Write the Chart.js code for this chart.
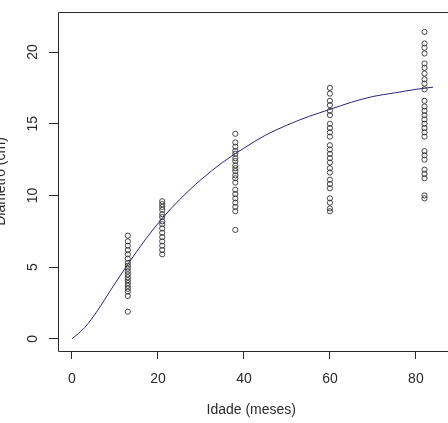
<!DOCTYPE html>
<html>
<head>
<meta charset="utf-8">
<script src="https://cdn.jsdelivr.net/npm/chart.js@4/dist/chart.umd.min.js"></script>
<style>
  html, body { margin: 0; padding: 0; background: #fff; overflow: hidden; }
  canvas { display: block; }
</style>
</head>
<body>
<canvas id="c" width="448" height="423"></canvas>
<script>
// ---- data ----
const ages = [13, 21, 38, 60, 82];
const d13 = [7.2, 6.8, 6.5, 6.2, 5.9, 5.6, 5.3, 5.1, 4.9, 4.7, 4.5, 4.3, 4.1, 3.9, 3.7, 3.5, 3.3, 3.0, 1.9];
const d21 = [9.6, 9.4, 9.2, 9.0, 8.7, 8.5, 8.2, 8.0, 7.7, 7.4, 7.1, 6.8, 6.5, 6.2, 5.9];
const d38 = [14.3, 13.7, 13.4, 13.1, 12.9, 12.6, 12.4, 12.1, 11.9, 11.7, 11.4, 11.2, 10.9, 10.4, 10.1, 9.8, 9.5, 9.2, 8.9, 7.6];
const d60 = [17.5, 17.1, 16.6, 16.3, 15.9, 15.6, 15.0, 14.7, 14.4, 14.1, 13.5, 13.2, 12.9, 12.6, 12.3, 11.9, 11.6, 11.1, 10.8, 10.5, 9.8, 9.5, 9.1, 8.9];
const d82 = [21.4, 20.6, 20.3, 19.9, 19.2, 18.9, 18.5, 18.1, 17.8, 17.4, 16.6, 16.2, 15.9, 15.6, 15.3, 15.0, 14.7, 14.4, 14.1, 13.1, 12.8, 12.5, 11.8, 11.5, 11.2, 10.0, 9.8];
const curveX = [0, 3, 6, 9, 13, 17, 21, 25, 30, 35, 40, 45, 50, 55, 60, 65, 70, 75, 80, 84];
const curveY = [0, 0.8, 2.0, 3.4, 5.2, 6.9, 8.4, 9.7, 11.1, 12.3, 13.3, 14.2, 14.9, 15.5, 16.0, 16.5, 16.9, 17.15, 17.4, 17.55];
const xTicks = [0, 20, 40, 60, 80];
const yTicks = [0, 5, 10, 15, 20];
const xTitle = 'Idade (meses)';
const yTitle = 'Diâmetro (cm)';

const FONT = "'Liberation Sans', Arial, sans-serif";
const INK = '#2a2a2a';

// ---- build datasets: one per age group ----
const groups = [d13, d21, d38, d60, d82];
const datasets = groups.map((g, i) => ({
  type: 'scatter',
  label: 'idade ' + ages[i],
  data: g.map(v => ({ x: ages[i], y: v })),
  showLine: false,
  pointStyle: 'circle',
  pointRadius: 2.6,
  pointHoverRadius: 2.6,
  pointBorderWidth: 0.9,
  pointBorderColor: '#333333',
  pointBackgroundColor: 'rgba(0,0,0,0)'
}));
datasets.push({
  type: 'line',
  label: 'ajuste',
  data: curveX.map((x, i) => ({ x: x, y: curveY[i] })),
  pointRadius: 0,
  pointHoverRadius: 0,
  borderColor: '#26267a',
  borderWidth: 1,
  cubicInterpolationMode: 'monotone',
  fill: false
});

// R-style box (left, top, bottom) plus rotated y tick labels and y title
const rPlugin = {
  id: 'rstyle',
  afterDraw(chart) {
    const a = chart.chartArea, ctx = chart.ctx;
    const ys = chart.scales.y;
    ctx.save();
    ctx.strokeStyle = INK;
    ctx.lineWidth = 1;
    ctx.beginPath();
    ctx.moveTo(chart.width + 5, Math.round(a.top) + 0.5);
    ctx.lineTo(Math.round(a.left) + 0.5, Math.round(a.top) + 0.5);
    ctx.lineTo(Math.round(a.left) + 0.5, Math.round(a.bottom) + 0.5);
    ctx.lineTo(chart.width + 5, Math.round(a.bottom) + 0.5);
    ctx.stroke();

    ctx.fillStyle = INK;
    ctx.font = "14px " + FONT;
    ctx.textAlign = 'center';
    ctx.textBaseline = 'middle';
    yTicks.forEach(v => {
      const py = ys.getPixelForValue(v);
      ctx.save();
      ctx.translate(33.5, py);
      ctx.rotate(-Math.PI / 2);
      ctx.fillText(String(v), 0, 0);
      ctx.restore();
    });
    ctx.save();
    ctx.translate(0, (a.top + a.bottom) / 2);
    ctx.rotate(-Math.PI / 2);
    ctx.textBaseline = 'alphabetic';
    ctx.fillText(yTitle, 0, 4.7);
    ctx.restore();
    ctx.restore();
  }
};

new Chart(document.getElementById('c'), {
  type: 'scatter',
  data: { datasets: datasets },
  options: {
    responsive: false,
    animation: false,
    events: [],
    layout: { padding: { top: 12, right: 2, left: 0, bottom: 0 } },
    plugins: { legend: { display: false }, tooltip: { enabled: false } },
    scales: {
      x: {
        type: 'linear',
        min: -3.24,
        max: 86.65,
        afterBuildTicks(s) { s.ticks = xTicks.map(v => ({ value: v })); },
        afterFit(s) { s.height = 72; },
        grid: { drawOnChartArea: false, drawTicks: true, tickLength: 8, tickColor: INK, tickWidth: 1 },
        border: { display: false },
        ticks: { color: INK, font: { family: FONT, size: 14 }, padding: 12, maxRotation: 0, minRotation: 0 },
        title: { display: true, text: xTitle, color: INK, font: { family: FONT, size: 14, lineHeight: 1 }, padding: { top: 0, bottom: 6 } }
      },
      y: {
        type: 'linear',
        min: -0.84,
        max: 22.79,
        afterBuildTicks(s) { s.ticks = yTicks.map(v => ({ value: v })); },
        afterFit(s) { s.width = 58; },
        grid: { drawOnChartArea: false, drawTicks: true, tickLength: 9, tickColor: INK, tickWidth: 1 },
        border: { display: false },
        ticks: { display: false },
        title: { display: false }
      }
    }
  },
  plugins: [rPlugin]
});
</script>
</body>
</html>
